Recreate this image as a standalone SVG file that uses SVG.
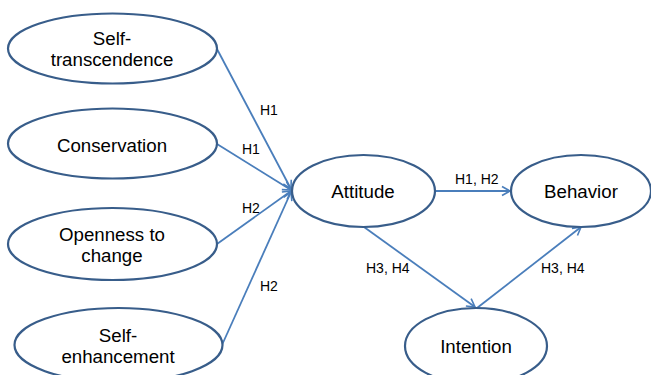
<svg xmlns="http://www.w3.org/2000/svg" width="651" height="375" viewBox="0 0 651 375">
<defs>
<marker id="arr" markerWidth="12" markerHeight="12" refX="10" refY="6" orient="auto" markerUnits="userSpaceOnUse">
<polyline points="2,1.5 10,6 2,10.5" fill="none" stroke="#4a7ebb" stroke-width="1.6"/>
</marker>
<style>
.n{fill:#fff;stroke:#385d8a;stroke-width:2.2}
.t{font-family:"Liberation Sans",Arial,sans-serif;font-size:18.7px;fill:#000;text-anchor:middle}
.l{font-family:"Liberation Sans",Arial,sans-serif;font-size:14px;fill:#000}
.c{stroke:#4a7ebb;stroke-width:1.8;fill:none;marker-end:url(#arr)}
</style>
</defs>
<rect width="651" height="375" fill="#fff"/>
<g id="connectors">
<line class="c" x1="217" y1="49" x2="291" y2="189"/>
<line class="c" x1="217" y1="144" x2="291" y2="190"/>
<line class="c" x1="217" y1="244" x2="291" y2="191"/>
<line class="c" x1="222" y1="345" x2="291" y2="192"/>
<line class="c" x1="435" y1="191" x2="510" y2="191"/>
<line class="c" x1="364" y1="227" x2="475" y2="307"/>
<line class="c" x1="477" y1="308" x2="581" y2="227"/>
<text class="l" x="260" y="115">H1</text>
<text class="l" x="242" y="154">H1</text>
<text class="l" x="242" y="213">H2</text>
<text class="l" x="260" y="291">H2</text>
<text class="l" x="455" y="184">H1, H2</text>
<text class="l" x="366" y="273">H3, H4</text>
<text class="l" x="541" y="273">H3, H4</text>
</g>
<g id="self-transcendence">
<ellipse class="n" cx="112.5" cy="48.5" rx="104.5" ry="35"/>
<text class="t" x="112" y="45">Self-</text>
<text class="t" x="112" y="66">transcendence</text>
</g>
<g id="conservation">
<ellipse class="n" cx="112.5" cy="143.5" rx="104.5" ry="35"/>
<text class="t" x="112" y="152">Conservation</text>
</g>
<g id="openness">
<ellipse class="n" cx="112.5" cy="244" rx="104.5" ry="36"/>
<text class="t" x="112" y="241">Openness to</text>
<text class="t" x="112" y="262">change</text>
</g>
<g id="self-enhancement">
<ellipse class="n" cx="118.5" cy="345" rx="104" ry="37"/>
<text class="t" x="118" y="342">Self-</text>
<text class="t" x="118" y="363">enhancement</text>
</g>
<g id="attitude">
<ellipse class="n" cx="363.5" cy="191" rx="71.5" ry="36"/>
<text class="t" x="363" y="198">Attitude</text>
</g>
<g id="behavior">
<ellipse class="n" cx="581" cy="191" rx="70" ry="36"/>
<text class="t" x="581" y="198">Behavior</text>
</g>
<g id="intention">
<ellipse class="n" cx="476" cy="346" rx="71" ry="38"/>
<text class="t" x="476" y="353">Intention</text>
</g>
</svg>
